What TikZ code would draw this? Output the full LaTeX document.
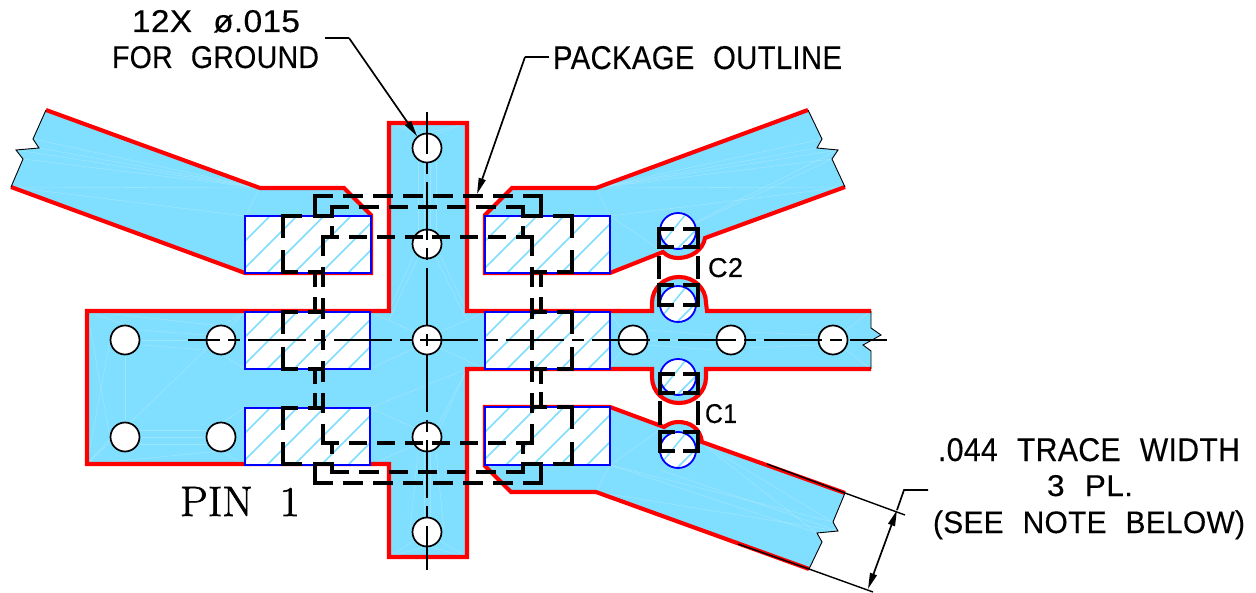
\documentclass[tikz,border=0pt]{standalone}
\usepackage{fontspec}
\usepackage{graphicx}
\usetikzlibrary{arrows.meta}
\newfontfamily\cad{Liberation Sans}[FakeStretch=0.95,WordSpace=2.2,LetterSpace=1,FakeBold=0.25]
\newfontfamily\pinf{Latin Modern Roman}[FakeBold=1.4]
\definecolor{copper}{HTML}{80DEFF}
\tikzset{
  x=1pt,y=-1pt,
  faint/.style={draw=white,opacity=.22,line width=.6pt},
  redline/.style={draw=red,line width=4.1pt,line join=miter},
  padbox/.style={draw=blue,line width=1.9pt},
  hatchline/.style={draw=copper,line width=1.5pt},
  hole/.style={circle,draw=black,fill=white,line width=1.7pt,minimum size=29pt,inner sep=0pt},
  via/.style={draw=blue,line width=1.8pt},
  brk/.style={draw=black,line width=.9pt},
  thin line/.style={draw=black,line width=1.7pt},
  leaderarrow/.style={draw=black,line width=1.7pt,-{Stealth[length=16pt,width=7pt,inset=0pt]}},
  dimarrow/.style={draw=black,line width=1.7pt,{Stealth[length=16pt,width=7pt,inset=0pt]}-{Stealth[length=16pt,width=7pt,inset=0pt]}},
  cadtext/.style={anchor=base west,inner sep=0pt,outer sep=0pt,text=black},
}
\newcommand{\padrect}[4]{%
  \fill[white] (#1,#2) rectangle (#3,#4);
  \begin{scope}
    \clip (#1,#2) rectangle (#3,#4);
    \foreach \k in {0,...,6} {
      \draw[hatchline] ({#1+25+27*\k},#2) -- ({#1+25+27*\k-100},{#2+100});
    }
  \end{scope}
  \draw[padbox] (#1,#2) rectangle (#3,#4);
}
\newcommand{\viacirc}[2]{%
  \fill[white] (#1,#2) circle[radius=18];
  \begin{scope}
    \clip (#1,#2) circle[radius=18];
    \draw[hatchline] ({#1-5+17},{#2-22}) -- ({#1-5-17-10},{#2+22+10});
    \draw[hatchline] ({#1+27},{#2-10}) -- ({#1-10},{#2+27});
  \end{scope}
  \draw[via] (#1,#2) circle[radius=18];
}
\newcommand{\hid}[4]{%
  \pgfmathsetmacro{\hL}{veclen(#3-#1,#4-#2)}%
  \pgfmathsetmacro{\hN}{max(1,round((\hL+10)/29))}%
  \pgfmathsetmacro{\hS}{(\hL+3.5)/(29*\hN-10)}%
  \pgfmathsetmacro{\hOn}{19*\hS-3.5}%
  \pgfmathsetmacro{\hOff}{10*\hS+3.5}%
  \draw[black,line width=3.5pt,line cap=rect,dash pattern=on \hOn pt off \hOff pt] (#1,#2) -- (#3,#4);
}
\begin{document}
\begin{tikzpicture}
\useasboundingbox (0,0) rectangle (1256,593);
\fill[white] (0,0) rectangle (1256,593);

% copper fills
\fill[copper] (46,110) -- (260,188) -- (344,188) -- (371,215) -- (371,273) -- (245,273) -- (11,187)
  -- (23,159) -- (16,150) -- (39,148) -- (33,139) -- cycle;
\fill[copper] (808,110) -- (596,188) -- (512,188) -- (485,215) -- (485,273) -- (610,273) -- (663,252)
  .. controls (667,256) and (672,258) .. (678,258) .. controls (691,258) and (703,250) .. (705,238)
  -- (845,187) -- (832,159) -- (838,150) -- (817,148) -- (822,139) -- cycle;
\fill[copper] (389,123) -- (467,123) -- (467,311) -- (652,311) -- (652,303)
  .. controls (652,288) and (664,277) .. (679,277) .. controls (694,277) and (706,288) .. (706,303)
  -- (707,311) -- (871,311) -- (871,328) -- (881,335) -- (863,345) -- (871,351) -- (871,369)
  -- (706,369) -- (706,377) .. controls (706,392) and (694,403) .. (679,403)
  .. controls (664,403) and (652,392) .. (652,377) -- (652,369) -- (467,369) -- (467,557)
  -- (389,557) -- (389,464) -- (87,464) -- (87,311) -- (389,311) -- cycle;
\fill[copper] (485,407) -- (610,407) -- (664,427) .. controls (668,424) and (673,422) .. (678,422)
  .. controls (690,422) and (700,428) .. (702,442) -- (845,493) -- (833,522) -- (838,531)
  -- (817,533) -- (822,542) -- (809,569) -- (596,492) -- (511,492) -- (485,466) -- cycle;

% faint triangulation
\foreach \a/\b/\c/\d in {
  260/188/33/139,260/188/23/159,260/188/16/150,260/188/39/148,260/188/11/187,245/216/11/187,245/216/260/188,
  596/188/822/139,596/188/832/159,596/188/817/148,596/188/838/150,596/188/845/187,610/216/845/187,610/216/596/188,
  660/240/832/159,660/240/838/150,610/216/663/252,
  610/465/833/522,610/465/817/533,596/492/838/531,610/465/596/492,610/465/664/427,700/442/817/533,700/442/833/522,
  660/470/838/531,
  87/311/125/325,87/311/221/326,87/464/125/422,87/464/221/451,87/311/110/437,87/464/110/340,87/464/245/312,125/355/125/422,
  140/340/206/340,140/330/206/335,140/345/206/350,140/437/206/437,140/430/206/430,140/444/206/444,
  245/408/221/423,245/465/221/451,245/312/221/326,245/369/221/354,
  389/123/420/135,467/123/434/135,389/123/427/133,467/123/427/133,
  389/557/415/540,467/557/439/540,389/557/427/546,467/557/427/546,
  418/162/418/230,436/162/436/230,424/162/424/230,430/162/430/230,
  414/255/389/311,440/255/467/311,418/258/389/320,436/258/467/320,
  370/312/415/332,370/369/415/348,370/408/415/428,370/465/415/445,
  485/312/440/332,485/369/440/348,467/369/440/428,467/369/438/425,467/369/370/408,389/311/370/312,
  418/452/410/530,436/452/444/530,424/452/424/517,430/452/430/517,
  610/312/620/328,610/369/620/352,648/340/716/340,648/330/716/335,648/345/716/350,746/340/818/340,746/332/818/335,746/348/818/345,
  846/330/871/311,846/350/871/369} {
  \draw[faint] (\a,\b) -- (\c,\d);
}

% trace edges
\draw[redline] (46,110) -- (260,188) -- (344,188) -- (371,215) -- (371,273) -- (245,273) -- (11,187);
\draw[redline] (808,110) -- (596,188) -- (512,188) -- (485,215) -- (485,273) -- (610,273) -- (663,252)
  .. controls (667,256) and (672,258) .. (678,258) .. controls (691,258) and (703,250) .. (705,238) -- (845,187);
\draw[redline] (871,311) -- (707,311) -- (706,303) .. controls (706,288) and (694,277) .. (679,277)
  .. controls (664,277) and (652,288) .. (652,303) -- (652,311) -- (467,311) -- (467,123) -- (389,123)
  -- (389,311) -- (87,311) -- (87,464) -- (389,464) -- (389,557) -- (467,557) -- (467,369) -- (652,369)
  -- (652,377) .. controls (652,392) and (664,403) .. (679,403) .. controls (694,403) and (706,392) .. (706,377)
  -- (706,369) -- (871,369);
\draw[redline] (845,493) -- (702,442) .. controls (700,428) and (690,422) .. (678,422)
  .. controls (673,422) and (668,424) .. (664,427) -- (610,407) -- (485,407) -- (485,466) -- (511,492)
  -- (596,492) -- (809,569);

% break lines
\draw[brk] (46,110) -- (33,139) -- (39,148) -- (16,150) -- (23,159) -- (11,187);
\draw[brk] (808,110) -- (822,139) -- (817,148) -- (838,150) -- (832,159) -- (845,187);
\draw[brk] (871,311) -- (871,328) -- (881,335) -- (863,345) -- (871,351) -- (871,369);
\draw[brk] (845,493) -- (833,522) -- (838,531) -- (817,533) -- (822,542) -- (809,569);

% pads
\padrect{245}{216}{371}{273}
\padrect{245}{312}{370}{369}
\padrect{245}{408}{370}{465}
\padrect{485}{216}{610}{273}
\padrect{485}{312}{610}{369}
\padrect{485}{407}{610}{465}

% capacitor vias
\viacirc{678}{231}
\viacirc{678}{304}
\viacirc{678}{377}
\viacirc{678}{450}

% ground holes
\node[hole] (h1) at (125,340) {};
\node[hole] (h2) at (221,340) {};
\node[hole] (h3) at (125,437) {};
\node[hole] (h4) at (221,437) {};
\node[hole] (h5) at (427,148) {};
\node[hole] (h6) at (427,244) {};
\node[hole] (h7) at (427,340) {};
\node[hole] (h8) at (427,437) {};
\node[hole] (h9) at (427,532) {};
\node[hole] (h10) at (633,340) {};
\node[hole] (h11) at (731,340) {};
\node[hole] (h12) at (833,340) {};

% centre lines
\draw[black,line width=1.7pt,dash pattern=on 58pt off 8pt on 12pt off 8pt,dash phase=26pt] (188,340) -- (887,340);
\draw[black,line width=1.7pt,dash pattern=on 58pt off 8pt on 12pt off 8pt,dash phase=16pt] (427,112) -- (427,570);

% package outline (hidden lines)
\hid{315}{196}{541}{196}
\hid{541}{196}{541}{216}
\hid{523}{216}{523}{207}
\hid{523}{207}{332}{207}
\hid{332}{207}{332}{216}
\hid{315}{216}{315}{196}
\hid{283}{216}{332}{216}
\hid{523}{216}{572}{216}
\hid{315}{483}{541}{483}
\hid{541}{483}{541}{464}
\hid{523}{464}{523}{472}
\hid{523}{472}{332}{472}
\hid{332}{472}{332}{464}
\hid{315}{464}{315}{483}
\hid{283}{464}{332}{464}
\hid{523}{464}{572}{464}
\hid{323}{237}{532}{237}
\hid{323}{443}{532}{443}
\hid{323}{237}{323}{443}
\hid{532}{237}{532}{443}
\hid{332}{228}{332}{237}
\hid{523}{228}{523}{237}
\hid{332}{443}{332}{452}
\hid{523}{443}{523}{452}
\hid{283}{216}{283}{272}
\hid{283}{272}{323}{272}
\hid{315}{272}{315}{312}
\hid{283}{312}{323}{312}
\hid{283}{312}{283}{369}
\hid{283}{369}{323}{369}
\hid{315}{369}{315}{408}
\hid{283}{408}{323}{408}
\hid{283}{408}{283}{464}
\hid{572}{216}{572}{272}
\hid{532}{272}{572}{272}
\hid{541}{272}{541}{312}
\hid{532}{312}{572}{312}
\hid{572}{312}{572}{369}
\hid{532}{369}{572}{369}
\hid{541}{369}{541}{407}
\hid{532}{407}{572}{407}
\hid{572}{407}{572}{464}

% capacitor outlines
\foreach \xa/\xb/\ya/\yb/\yc/\yd/\ye/\yf in {659/698/229/247/258/277/285/305,660/698/374/393/403/423/432/451} {
  \foreach \xx in {\xa,\xb} {
    \hid{\xx}{\ya}{\xx}{\yb}
    \hid{\xx}{\yc}{\xx}{\yd}
    \hid{\xx}{\ye}{\xx}{\yf}
  }
  \foreach \yy in {\ya,\yb,\ye,\yf} {
    \hid{\xa}{\yy}{\xb}{\yy}
  }
}

% leaders and dimension
\coordinate (k1a) at (325,38);
\coordinate (k1b) at (349,38);
\draw[thin line] (k1a) -- (k1b);
\draw[leaderarrow] (k1b) -- (h5.130);
\coordinate (k2a) at (549,57);
\coordinate (k2b) at (525,57);
\coordinate (k2c) at (477,194);
\draw[thin line] (k2a) -- (k2b);
\draw[leaderarrow] (k2b) -- (k2c);

\draw[brk,line width=1.4pt] (767,464) -- (845,493) -- (905,515);
\draw[brk,line width=1.4pt] (738,544) -- (809,569) -- (873,592);
\coordinate (d1) at (897,510);
\coordinate (d2) at (868,589);
\coordinate (d3) at (904,490);
\coordinate (d4) at (928,490);
\draw[dimarrow] (d2) -- (d1);
\draw[thin line] (d1) -- (d3) -- (d4);

% text
\node[cadtext] (t1) at (132,32) {\resizebox{168pt}{22pt}{\cad\fontsize{30.7}{36}\selectfont 12X ø.015}};
\node[cadtext] (t2) at (112,68) {\resizebox{207pt}{22pt}{\cad\fontsize{30.7}{36}\selectfont FOR GROUND}};
\node[cadtext] (t3) at (553,69) {\resizebox{289pt}{23pt}{\cad\fontsize{30.7}{36}\selectfont PACKAGE OUTLINE}};
\node[cadtext] (t4) at (708,277) {\resizebox{35pt}{19pt}{\cad\fontsize{26.5}{32}\selectfont C2}};
\node[cadtext] (t5) at (705,423) {\resizebox{32pt}{19pt}{\cad\fontsize{26.5}{32}\selectfont C1}};
\node[cadtext] (t6) at (938,461) {\resizebox{302pt}{23pt}{\cad\fontsize{30.7}{36}\selectfont .044 TRACE WIDTH}};
\node[cadtext] (t7) at (1047,496) {\resizebox{86pt}{21pt}{\cad\fontsize{30.7}{36}\selectfont 3 PL.}};
\node[cadtext] (t8) at (933,533) {\resizebox{312pt}{22.5pt}{\cad\fontsize{30.7}{36}\selectfont (SEE NOTE BELOW)}};
\node[cadtext] (t9) at (180,516) {\resizebox{120pt}{29pt}{\pinf\fontsize{42}{50}\selectfont PIN\ \ 1}};
\end{tikzpicture}
\end{document}
